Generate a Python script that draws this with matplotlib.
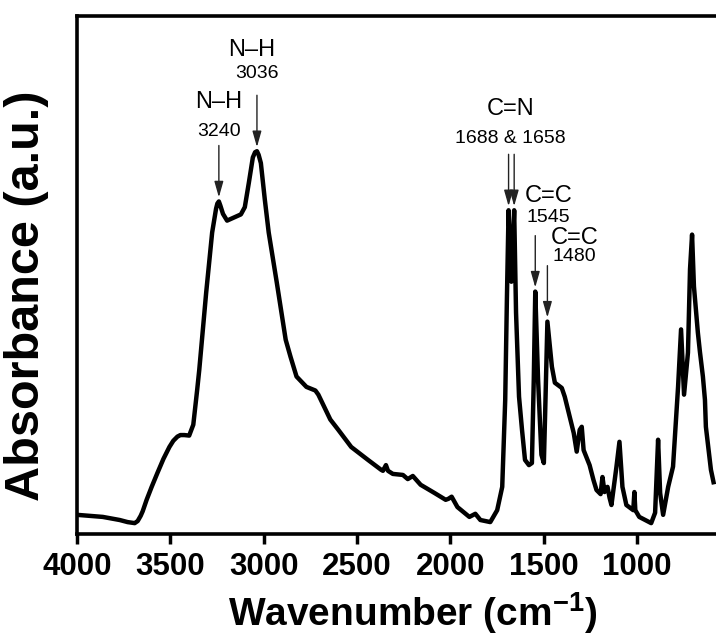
import numpy as np
import matplotlib
matplotlib.use('Agg')
import matplotlib.pyplot as plt

plt.rcParams['font.family'] = ['Liberation Sans', 'DejaVu Sans']
plt.rcParams['mathtext.fontset'] = 'custom'
plt.rcParams['mathtext.rm'] = 'Liberation Sans'
plt.rcParams['mathtext.bf'] = 'Liberation Sans:bold'

# FTIR spectrum (wavenumber in cm-1, absorbance in a.u.)
wavenumber = [4000, 3862, 3771, 3729, 3691, 3675, 3659, 3648, 3627, 3600, 3569, 3537, 3505,
              3484, 3462, 3446, 3425, 3399, 3377, 3356, 3345, 3308, 3276, 3255, 3248, 3240,
              3232, 3218, 3196, 3159, 3122, 3101, 3079, 3058, 3046, 3036, 3027, 3015, 2994,
              2973, 2930, 2882, 2856, 2824, 2771, 2723, 2707, 2643, 2600, 2531, 2441, 2371,
              2361, 2345, 2334, 2308, 2254, 2228, 2201, 2159, 2084, 2025, 2010, 1993, 1962,
              1898, 1866, 1839, 1786, 1749, 1722, 1706, 1697, 1688, 1673, 1658, 1648, 1632,
              1616, 1600, 1579, 1563, 1553, 1545, 1530, 1512, 1499, 1492, 1480, 1456, 1440,
              1403, 1387, 1366, 1339, 1323, 1307, 1296, 1286, 1254, 1233, 1217, 1195, 1185,
              1174, 1158, 1147, 1137, 1110, 1094, 1078, 1057, 1020, 1014, 1009, 988, 924, 903,
              887, 876, 860, 833, 807, 780, 764, 748, 727, 716, 705, 695, 674, 663, 647, 636,
              631, 604, 590]
absorbance = [0.037, 0.033, 0.027, 0.023, 0.021, 0.025, 0.035, 0.044, 0.066, 0.091, 0.118,
              0.145, 0.168, 0.180, 0.188, 0.191, 0.191, 0.190, 0.211, 0.279, 0.317, 0.466,
              0.582, 0.628, 0.638, 0.642, 0.634, 0.618, 0.605, 0.611, 0.617, 0.631, 0.679,
              0.727, 0.737, 0.739, 0.732, 0.716, 0.646, 0.582, 0.486, 0.375, 0.342, 0.304,
              0.284, 0.277, 0.269, 0.221, 0.201, 0.168, 0.143, 0.124, 0.122, 0.133, 0.122,
              0.116, 0.114, 0.106, 0.112, 0.095, 0.079, 0.066, 0.068, 0.072, 0.052, 0.033,
              0.039, 0.027, 0.023, 0.046, 0.091, 0.259, 0.453, 0.625, 0.487, 0.625, 0.427,
              0.265, 0.201, 0.143, 0.133, 0.137, 0.298, 0.468, 0.298, 0.153, 0.137, 0.234,
              0.410, 0.323, 0.292, 0.282, 0.265, 0.234, 0.195, 0.159, 0.201, 0.207, 0.162,
              0.133, 0.104, 0.085, 0.077, 0.110, 0.081, 0.091, 0.070, 0.056, 0.130, 0.178,
              0.091, 0.056, 0.046, 0.081, 0.046, 0.033, 0.021, 0.041, 0.182, 0.079, 0.037,
              0.091, 0.130, 0.284, 0.395, 0.269, 0.350, 0.511, 0.578, 0.478, 0.389, 0.352,
              0.304, 0.259, 0.207, 0.124, 0.100]

xticks = [4000, 3500, 3000, 2500, 2000, 1500, 1000]

# peak labels
peaks = [3240, 3036, 1688, 1658, 1545, 1480]

fig = plt.figure(figsize=(7.16, 6.39), dpi=100)
ax = fig.add_axes([77 / 716, 1 - 534 / 639, 672 / 716, 518 / 639])

ax.plot(wavenumber, absorbance, color='black', lw=3.2, solid_joinstyle='round')
ax.set_xlim(4000, 400)
ax.set_ylim(0, 1.0)

ax.set_xticks(xticks)
ax.set_yticks([])
ax.tick_params(axis='x', direction='out', length=7, width=2.5, pad=6)
for lab in ax.get_xticklabels():
    lab.set_fontsize(22.5)
    lab.set_fontweight('bold')

for s in ['left', 'bottom', 'top']:
    ax.spines[s].set_linewidth(2.6)
ax.spines['right'].set_visible(False)

ax.set_xlabel(r'Wavenumber (cm$^{\mathbf{-1}}$)', fontsize=28, fontweight='bold')
ax.xaxis.set_label_coords(0.5, -0.108)
ax.set_ylabel('Absorbance (a.u.)', fontsize=35, fontweight='bold')
ax.yaxis.set_label_coords(-0.042, 0.46)

# arrows pointing at the peaks
arrow_len = 0.1
gap = 0.008
tops = {}
for p in peaks:
    tip = np.interp(p, wavenumber[::-1], absorbance[::-1]) + gap
    tops[p] = tip + arrow_len
    ax.annotate('', xy=(p, tip), xytext=(p, tip + arrow_len),
                arrowprops=dict(arrowstyle='-|>,head_length=0.6,head_width=0.17',
                                mutation_scale=16, lw=1, color='#222222',
                                shrinkA=0, shrinkB=0))

def label(text, p, dx, dy, size, ha='center'):
    ax.annotate(text, xy=(p, tops[p]), xytext=(dx * 0.72, dy * 0.72),
                textcoords='offset points', ha=ha, va='center', fontsize=size)

label('N–H', 3240, 0, 43, 17)
label('3240', 3240, 0, 14, 14)
label('N–H', 3036, -5, 45, 17)
label('3036', 3036, 0, 22, 14)
label('C=N', 1658, -4, 45, 17)
label('1688 & 1658', 1658, -4, 16, 14)
label('C=C', 1545, -11, 40, 17, ha='left')
label('1545', 1545, -9, 18, 14, ha='left')
label('C=C', 1480, 3, 28, 17, ha='left')
label('1480', 1480, 5, 9, 14, ha='left')

fig.savefig('out.png', dpi=100)
